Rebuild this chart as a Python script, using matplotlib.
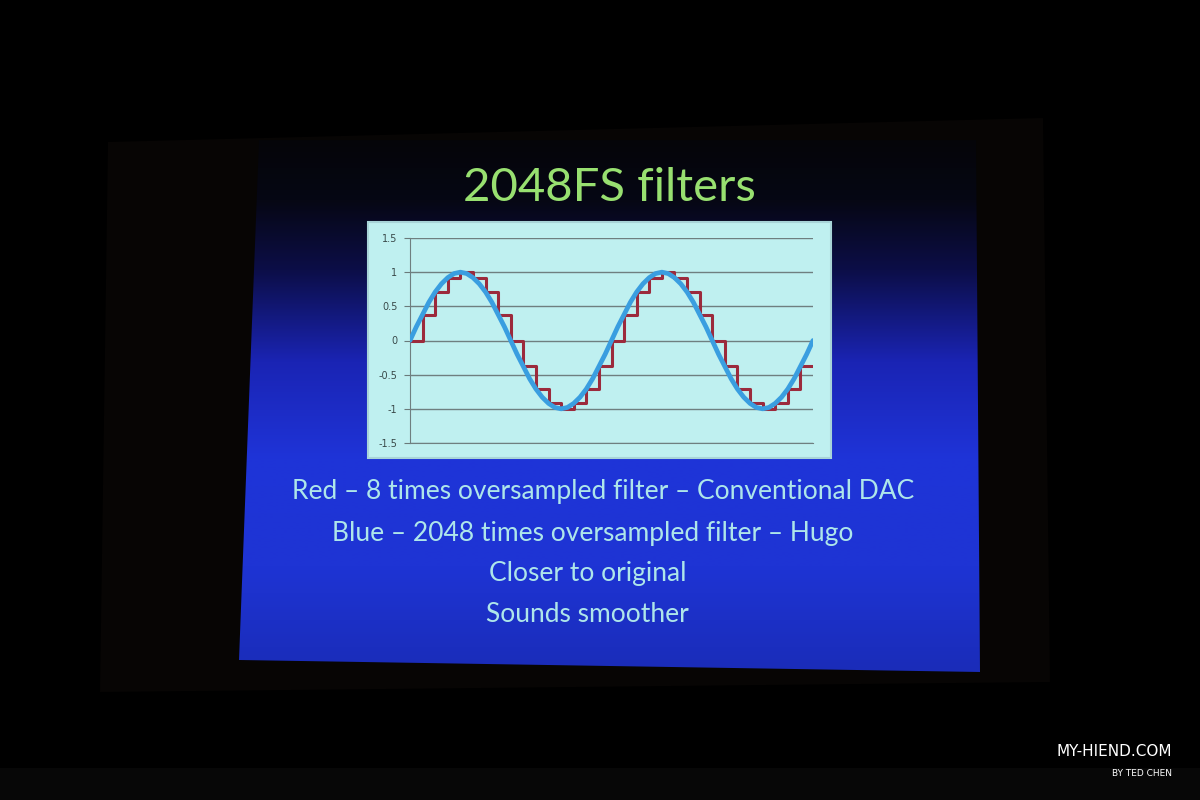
import numpy as np
import matplotlib
matplotlib.use("Agg")
import matplotlib.pyplot as plt
from matplotlib.patches import Polygon, Rectangle
from matplotlib.colors import LinearSegmentedColormap

# ---------------- data ----------------
title = "2048FS filters"
caption_lines = [
    "Red \u2013 8 times oversampled filter \u2013 Conventional DAC",
    "Blue \u2013 2048 times oversampled filter \u2013 Hugo",
    "Closer to original",
    "Sounds smoother",
]
watermark_main = "MY-HIEND.COM"
watermark_sub = "BY TED CHEN"

# red: 8x oversampled, held samples (32 samples over two cycles)
red_values = [0.0, 0.38, 0.71, 0.92, 1.0, 0.92, 0.71, 0.38,
              0.0, -0.38, -0.71, -0.92, -1.0, -0.92, -0.71, -0.38,
              0.0, 0.38, 0.71, 0.92, 1.0, 0.92, 0.71, 0.38,
              0.0, -0.38, -0.71, -0.92, -1.0, -0.92, -0.71, -0.38]
# blue: smooth curve, read at half-sample spacing (65 points)
blue_values = [0.0, 0.20, 0.38, 0.56, 0.71, 0.83, 0.92, 0.98,
               1.0, 0.98, 0.92, 0.83, 0.71, 0.56, 0.38, 0.20,
               0.0, -0.20, -0.38, -0.56, -0.71, -0.83, -0.92, -0.98,
               -1.0, -0.98, -0.92, -0.83, -0.71, -0.56, -0.38, -0.20,
               0.0, 0.20, 0.38, 0.56, 0.71, 0.83, 0.92, 0.98,
               1.0, 0.98, 0.92, 0.83, 0.71, 0.56, 0.38, 0.20,
               0.0, -0.20, -0.38, -0.56, -0.71, -0.83, -0.92, -0.98,
               -1.0, -0.98, -0.92, -0.83, -0.71, -0.56, -0.38, -0.20,
               0.0]
y_ticks = [-1.5, -1.0, -0.5, 0.0, 0.5, 1.0, 1.5]
y_tick_labels = ["-1.5", "-1", "-0.5", "0", "0.5", "1", "1.5"]

# ---------------- figure ----------------
W, H = 1200, 800
fig = plt.figure(figsize=(12, 8), dpi=100, facecolor="black")
bg = fig.add_axes([0, 0, 1, 1])
bg.set_xlim(0, W)
bg.set_ylim(H, 0)
bg.axis("off")
bg.set_facecolor("black")

# floor strip
bg.add_patch(Rectangle((0, 768), W, 32, facecolor="#070707", edgecolor="none"))
# projection screen (dim)
bg.add_patch(Polygon([(108, 142), (1043, 118), (1050, 682), (100, 692)],
                     closed=True, facecolor="#070504", edgecolor="none"))
# slide with vertical gradient
slide_poly = Polygon([(259, 140), (976, 140), (980, 672), (239, 660)],
                     closed=True, facecolor="none", edgecolor="none")
bg.add_patch(slide_poly)
cmap = LinearSegmentedColormap.from_list(
    "slide",
    [(0.0, "#050508"), (0.12, "#060714"), (0.25, "#0c0e48"),
     (0.42, "#1a24b4"), (0.6, "#1f34d8"), (0.8, "#1e34d4"),
     (1.0, "#1a2cb8")])
grad = np.linspace(0, 1, 256).reshape(-1, 1)
im = bg.imshow(grad, cmap=cmap, aspect="auto", extent=[235, 985, 675, 135],
               interpolation="bilinear", zorder=1)
im.set_clip_path(slide_poly)
bg.set_xlim(0, W)
bg.set_ylim(H, 0)

# title
bg.text(609, 188, title, color="#98e070", fontsize=34, family="Lato",
        ha="center", va="center", zorder=3)
# caption lines
cap_y = [491, 533, 574, 615]
cap_x = [603, 593, 588, 587]
for cx, cy, line in zip(cap_x, cap_y, caption_lines):
    bg.text(cx, cy, line, color="#aee6ea", fontsize=19, family="Lato",
            ha="center", va="center", zorder=3)

# watermark
bg.text(1172, 752, watermark_main, color="white", fontsize=11,
        family="DejaVu Sans", ha="right", va="center")
bg.text(1172, 773, watermark_sub, color="white", fontsize=6.5,
        family="DejaVu Sans", ha="right", va="center")

# chart frame
bg.add_patch(Rectangle((368, 222), 463, 236, facecolor="#bff0f0",
                       edgecolor="#a8d4d8", linewidth=1.5, zorder=2))

# chart plot area
px_left, px_right, px_top, px_bottom = 410, 813, 238, 443
ax = fig.add_axes([px_left / W, 1 - px_bottom / H,
                   (px_right - px_left) / W, (px_bottom - px_top) / H])
ax.patch.set_alpha(0.0)
ax.set_xlim(0, len(red_values))
ax.set_ylim(-1.5, 1.5)
ax.set_yticks(y_ticks)
ax.set_yticklabels(y_tick_labels)
ax.tick_params(axis="y", labelsize=7, labelcolor="#3a4a4a", length=4,
               color="#6a7a7a", pad=5)
ax.set_xticks([])
ax.grid(axis="y", color="#6f7f80", linewidth=1.0)
ax.set_axisbelow(True)
for s in ["top", "right"]:
    ax.spines[s].set_visible(False)
ax.spines["left"].set_color("#6f7f80")
ax.spines["bottom"].set_color("#6f7f80")

red_x = np.arange(len(red_values) + 1)
red_y = red_values + [red_values[-1]]
ax.step(red_x, red_y, where="post", color="#9c2a3c", linewidth=2.2, zorder=3)
blue_x = np.arange(len(blue_values)) / 2.0
ax.plot(blue_x, blue_values, color="#3a9ee0", linewidth=3.4, zorder=4,
        solid_capstyle="round")

fig.savefig("out.png", dpi=100, facecolor="black")
